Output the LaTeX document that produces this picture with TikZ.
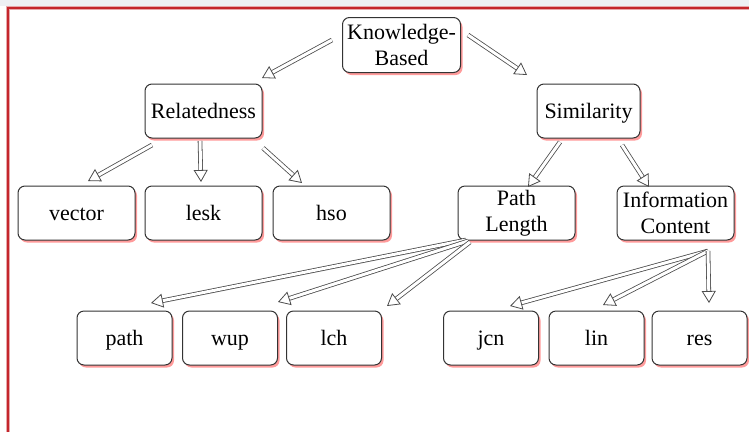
\documentclass[tikz,border=0pt]{standalone}
\usepackage{fontspec}
\setmainfont{Liberation Serif}
\usetikzlibrary{shadows,arrows.meta}
\definecolor{frame}{HTML}{C4262C}
\definecolor{topgray}{HTML}{EEF0F4}
\newcommand\boxfont{\fontsize{22}{26}\selectfont}
\tikzset{
  box/.style={draw=black!80, line width=1pt, rounded corners=7pt, fill=white,
    align=center, font=\boxfont, inner sep=1pt, minimum height=54pt,
    drop shadow={shadow xshift=2pt, shadow yshift=-2.5pt, fill=red!65, opacity=0.6}},
  one/.style={text height=15pt, text depth=0pt},
  wide/.style={box, minimum width=117pt},
  narrow/.style={box, one, minimum width=95pt},
  arr/.style={draw=black!70, line width=0.8pt, double=white, double distance=3pt,
    -{Triangle[open, length=12pt, width=14pt]}}
}
\begin{document}
\begin{tikzpicture}[x=1pt,y=-1pt]
\useasboundingbox (0,0) rectangle (749,432);
\fill[white] (0,0) rectangle (749,432);
\fill[topgray] (0,0) rectangle (749,6);
\draw[frame!40, line width=3.5pt] (8,432) -- (8,8) -- (749,8);
\draw[frame, line width=1.6pt] (8,432) -- (8,8) -- (749,8);

\node[box, minimum width=118pt, minimum height=55pt] (kb) at (401.5,45) {Knowledge-\\Based};
\node[wide, one] (rel) at (203.5,111) {Relatedness};
\node[box, one, minimum width=103pt] (sim) at (588.5,111) {Similarity};
\node[wide, one] (vector) at (76.5,213) {vector};
\node[wide, one] (lesk) at (203.5,213) {lesk};
\node[wide, one] (hso) at (331.5,213) {hso};
\node[wide] (pl) at (516.5,213) {Path\\Length};
\node[wide] (ic) at (675.5,213) {Information\\Content};
\node[narrow] (path) at (124.5,338) {path};
\node[narrow] (wup) at (230,338) {wup};
\node[narrow] (lch) at (334,338) {lch};
\node[narrow] (jcn) at (491,338) {jcn};
\node[narrow] (lin) at (596.5,338) {lin};
\node[narrow] (res) at (699.5,338) {res};

\coordinate (kbL) at (332,40);   \coordinate (relT) at (262,78);
\coordinate (kbR) at (468,35);   \coordinate (simT) at (527,75);
\coordinate (relA) at (152,145); \coordinate (vecT) at (88,181);
\coordinate (relB) at (200,141); \coordinate (leskT) at (201,182);
\coordinate (relC) at (263,148); \coordinate (hsoT) at (302,183);
\coordinate (simA) at (560,142); \coordinate (plT) at (528,187);
\coordinate (simB) at (622,145); \coordinate (icT) at (649,187);
\coordinate (plA) at (466,240);  \coordinate (pathT) at (151,303);
\coordinate (plB) at (468,241);  \coordinate (wupT) at (278,302);
\coordinate (plC) at (470,242);  \coordinate (lchT) at (387,306);
\coordinate (icA) at (708,251);  \coordinate (jcnT) at (510,306);
                                 \coordinate (linT) at (603,305);
                                 \coordinate (resT) at (709,303);

\draw[arr] (kbL) -- (relT);
\draw[arr] (kbR) -- (simT);
\draw[arr] (relA) -- (vecT);
\draw[arr] (relB) -- (leskT);
\draw[arr] (relC) -- (hsoT);
\draw[arr] (simA) -- (plT);
\draw[arr] (simB) -- (icT);
\draw[arr] (plA) -- (pathT);
\draw[arr] (plB) -- (wupT);
\draw[arr] (plC) -- (lchT);
\draw[arr] (icA) -- (jcnT);
\draw[arr] (icA) -- (linT);
\draw[arr] (icA) -- (resT);
\end{tikzpicture}
\end{document}
